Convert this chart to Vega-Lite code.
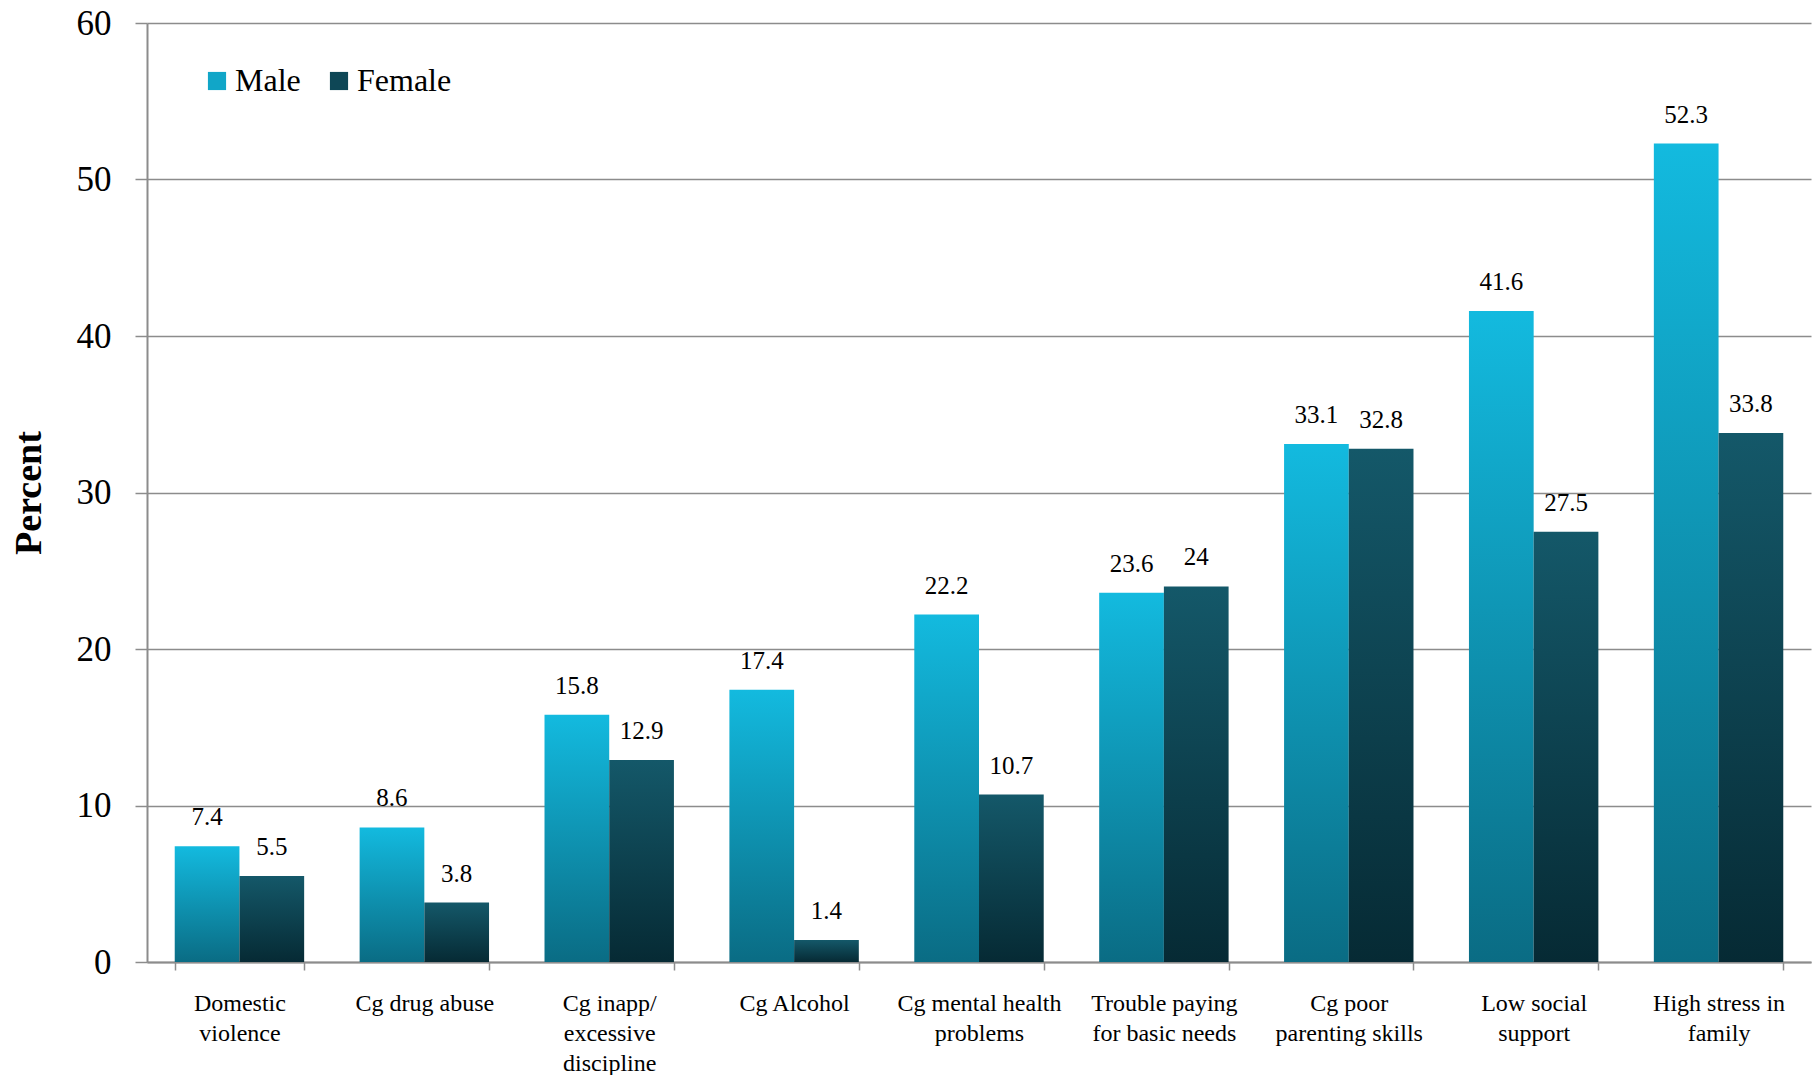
{
  "$schema": "https://vega.github.io/schema/vega-lite/v6.json",
  "width": 1664,
  "height": 939,
  "autosize": {"type": "none"},
  "padding": {"left": 147, "top": 23, "right": 7, "bottom": 113},
  "background": "white",
  "config": {
    "view": {"stroke": null},
    "font": "Liberation Serif"
  },
  "data": {
    "values": [
      {"category": "Domestic violence", "sex": "Male", "percent": 7.4},
      {"category": "Domestic violence", "sex": "Female", "percent": 5.5},
      {"category": "Cg drug abuse", "sex": "Male", "percent": 8.6},
      {"category": "Cg drug abuse", "sex": "Female", "percent": 3.8},
      {"category": "Cg inapp/ excessive discipline", "sex": "Male", "percent": 15.8},
      {"category": "Cg inapp/ excessive discipline", "sex": "Female", "percent": 12.9},
      {"category": "Cg Alcohol", "sex": "Male", "percent": 17.4},
      {"category": "Cg Alcohol", "sex": "Female", "percent": 1.4},
      {"category": "Cg mental health problems", "sex": "Male", "percent": 22.2},
      {"category": "Cg mental health problems", "sex": "Female", "percent": 10.7},
      {"category": "Trouble paying for basic needs", "sex": "Male", "percent": 23.6},
      {"category": "Trouble paying for basic needs", "sex": "Female", "percent": 24},
      {"category": "Cg poor parenting skills", "sex": "Male", "percent": 33.1},
      {"category": "Cg poor parenting skills", "sex": "Female", "percent": 32.8},
      {"category": "Low social support", "sex": "Male", "percent": 41.6},
      {"category": "Low social support", "sex": "Female", "percent": 27.5},
      {"category": "High stress in family", "sex": "Male", "percent": 52.3},
      {"category": "High stress in family", "sex": "Female", "percent": 33.8}
    ]
  },
  "encoding": {
    "x": {
      "field": "category",
      "type": "nominal",
      "sort": null,
      "scale": {"paddingInner": 0.3, "paddingOuter": 0.15},
      "axis": {
        "title": null,
        "labelAngle": 0,
        "labelFont": "Liberation Serif",
        "labelFontSize": 24,
        "labelColor": "black",
        "labelPadding": 21,
        "labelLineHeight": 30,
        "labelBaseline": "top",
        "labelLimit": 0,
        "tickBand": "extent",
        "tickSize": 8,
        "tickWidth": 1.5,
        "tickColor": "#8c8c8c",
        "domainColor": "#8c8c8c",
        "domainWidth": 2,
        "grid": false,
        "labelExpr": "datum.value == 'Domestic violence' ? ['Domestic', 'violence'] : datum.value == 'Cg inapp/ excessive discipline' ? ['Cg inapp/', 'excessive', 'discipline'] : datum.value == 'Cg mental health problems' ? ['Cg mental health', 'problems'] : datum.value == 'Trouble paying for basic needs' ? ['Trouble paying', 'for basic needs'] : datum.value == 'Cg poor parenting skills' ? ['Cg poor', 'parenting skills'] : datum.value == 'Low social support' ? ['Low social', 'support'] : datum.value == 'High stress in family' ? ['High stress in', 'family'] : datum.value"
      }
    },
    "xOffset": {
      "field": "sex",
      "type": "nominal",
      "sort": ["Male", "Female"],
      "scale": {"domain": ["Male", "Female"], "paddingInner": 0, "paddingOuter": 0}
    },
    "y": {
      "field": "percent",
      "type": "quantitative",
      "scale": {"domain": [0, 60], "nice": false},
      "axis": {
        "title": "Percent",
        "titleFont": "Liberation Serif",
        "titleFontSize": 38,
        "titleFontWeight": "bold",
        "titleColor": "black",
        "titlePadding": 28,
        "values": [0, 10, 20, 30, 40, 50, 60],
        "labelFont": "Liberation Serif",
        "labelFontSize": 35,
        "labelColor": "black",
        "labelPadding": 24,
        "tickSize": 12,
        "tickWidth": 1.5,
        "tickColor": "#8c8c8c",
        "domainColor": "#8c8c8c",
        "domainWidth": 2,
        "grid": true,
        "gridColor": "#8c8c8c",
        "gridWidth": 1.5
      }
    }
  },
  "layer": [
    {
      "transform": [{"filter": "datum.sex == 'Male'"}],
      "mark": {
        "type": "bar",
        "color": {
          "gradient": "linear",
          "x1": 0, "y1": 0, "x2": 0, "y2": 1,
          "stops": [
            {"offset": 0, "color": "#13BADF"},
            {"offset": 1, "color": "#0A6C84"}
          ]
        }
      }
    },
    {
      "transform": [{"filter": "datum.sex == 'Female'"}],
      "mark": {
        "type": "bar",
        "color": {
          "gradient": "linear",
          "x1": 0, "y1": 0, "x2": 0, "y2": 1,
          "stops": [
            {"offset": 0, "color": "#145869"},
            {"offset": 1, "color": "#062A34"}
          ]
        }
      }
    },
    {
      "mark": {"type": "bar", "opacity": 0},
      "encoding": {
        "color": {
          "field": "sex",
          "type": "nominal",
          "sort": ["Male", "Female"],
          "scale": {"domain": ["Male", "Female"], "range": ["#11A6C8", "#0E4756"]},
          "legend": {
            "title": null,
            "orient": "none",
            "legendX": 54,
            "legendY": 42,
            "direction": "horizontal",
            "symbolType": "square",
            "symbolSize": 330,
            "symbolOpacity": 1,
            "symbolStrokeWidth": 0,
            "labelFont": "Liberation Serif",
            "labelFontSize": 32,
            "labelColor": "black",
            "labelOffset": 2,
            "columnPadding": 22
          }
        }
      }
    },
    {
      "mark": {"type": "text", "baseline": "bottom", "dy": -16, "font": "Liberation Serif", "fontSize": 25, "color": "black"},
      "encoding": {
        "text": {"field": "percent", "type": "quantitative"}
      }
    }
  ]
}
